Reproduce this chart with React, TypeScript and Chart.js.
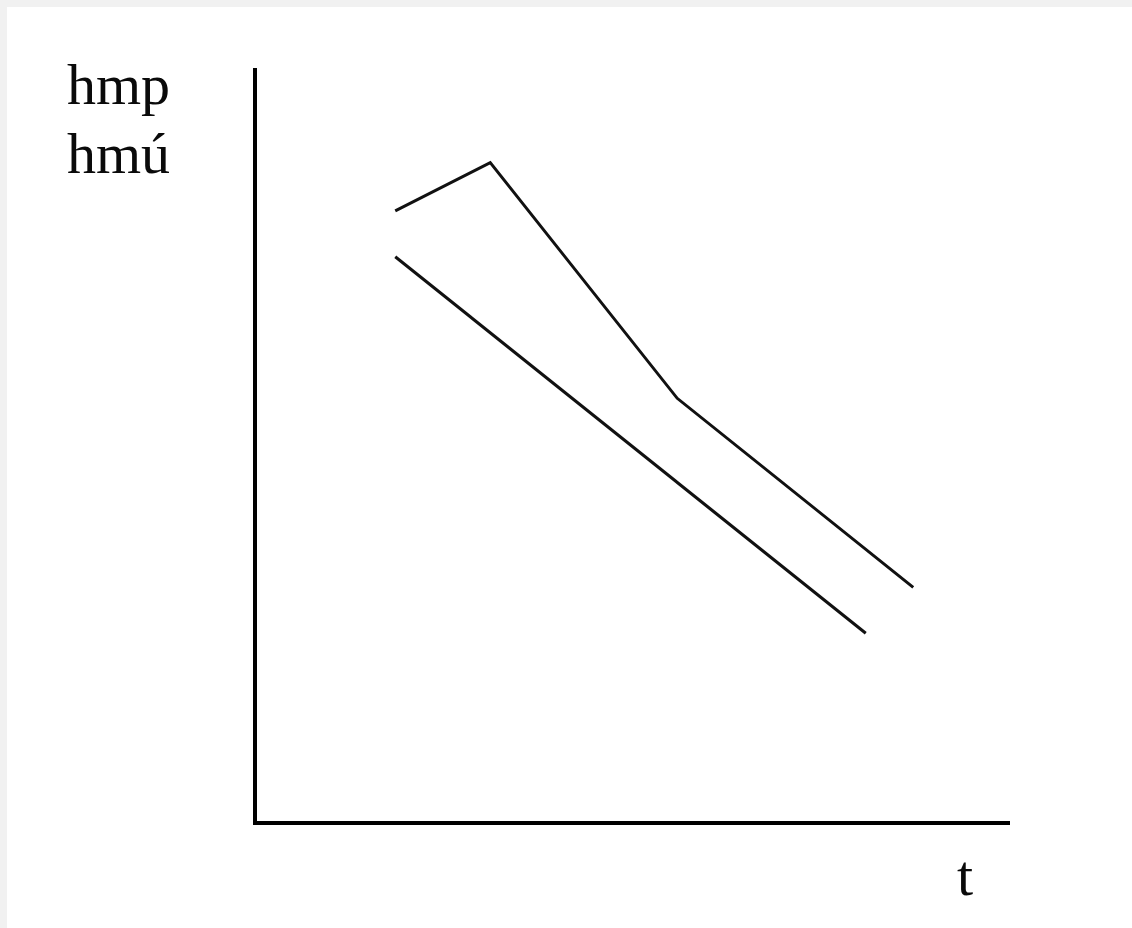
import React, { useEffect, useRef } from "react";
import { Chart, registerables } from "chart.js";

Chart.register(...registerables);

// Upper curve (hmp): x positions and values
const upperX = [18.6, 31.2, 56.0, 87.3];
const upperY = [81.3, 87.7, 56.4, 31.3];
// Lower curve (hmú)
const lowerX = [18.6, 81.0];
const lowerY = [75.2, 25.2];

const yLabels = ["hmp", "hmú"];
const xLabel = "t";

const labelPlugin = {
  id: "axisLabels",
  afterDraw(chart: any) {
    const { ctx, chartArea } = chart;
    ctx.save();
    ctx.fillStyle = "#0a0a0a";
    ctx.font = "58px 'Liberation Serif', 'Times New Roman', serif";
    ctx.textBaseline = "alphabetic";
    ctx.textAlign = "left";
    yLabels.forEach((t, i) => {
      ctx.fillText(t, chartArea.left - 188, chartArea.top + 34 + i * 69);
    });
    ctx.textAlign = "center";
    ctx.fillText(xLabel, chartArea.right - 44, chartArea.bottom + 72);
    ctx.restore();
  },
};

export default function App() {
  const ref = useRef<HTMLCanvasElement | null>(null);
  useEffect(() => {
    if (!ref.current) return;
    const toPts = (xs: number[], ys: number[]) => xs.map((x, i) => ({ x, y: ys[i] }));
    const chart = new Chart(ref.current, {
      type: "line",
      data: {
        datasets: [
          {
            label: yLabels[0],
            data: toPts(upperX, upperY),
            borderColor: "#111",
            borderWidth: 3,
            pointRadius: 0,
            tension: 0,
            fill: false,
          },
          {
            label: yLabels[1],
            data: toPts(lowerX, lowerY),
            borderColor: "#111",
            borderWidth: 3,
            pointRadius: 0,
            tension: 0,
            fill: false,
          },
        ],
      },
      options: {
        animation: false,
        responsive: false,
        events: [],
        layout: { padding: { left: 248, top: 63, right: 123, bottom: 105 } },
        plugins: {
          legend: { display: false },
          tooltip: { enabled: false },
          title: { display: false },
        },
        scales: {
          x: {
            type: "linear",
            min: 0,
            max: 100,
            grid: { display: false, drawTicks: false, tickLength: 0 },
            ticks: { display: false },
            border: { display: true, color: "#000", width: 4 },
          },
          y: {
            type: "linear",
            min: 0,
            max: 100,
            grid: { display: false, drawTicks: false, tickLength: 0 },
            ticks: { display: false },
            border: { display: true, color: "#000", width: 4 },
          },
        },
      },
      plugins: [labelPlugin],
    });
    return () => chart.destroy();
  }, []);

  return (
    <div
      style={{
        position: "fixed",
        left: 0,
        top: 0,
        width: 1132,
        height: 928,
        background: "#f1f1f1",
      }}
    >
      <div
        style={{
          position: "absolute",
          left: 7,
          top: 7,
          width: 1125,
          height: 921,
          background: "#ffffff",
        }}
      >
        <canvas ref={ref} width={1125} height={921} style={{ display: "block" }} />
      </div>
    </div>
  );
}
